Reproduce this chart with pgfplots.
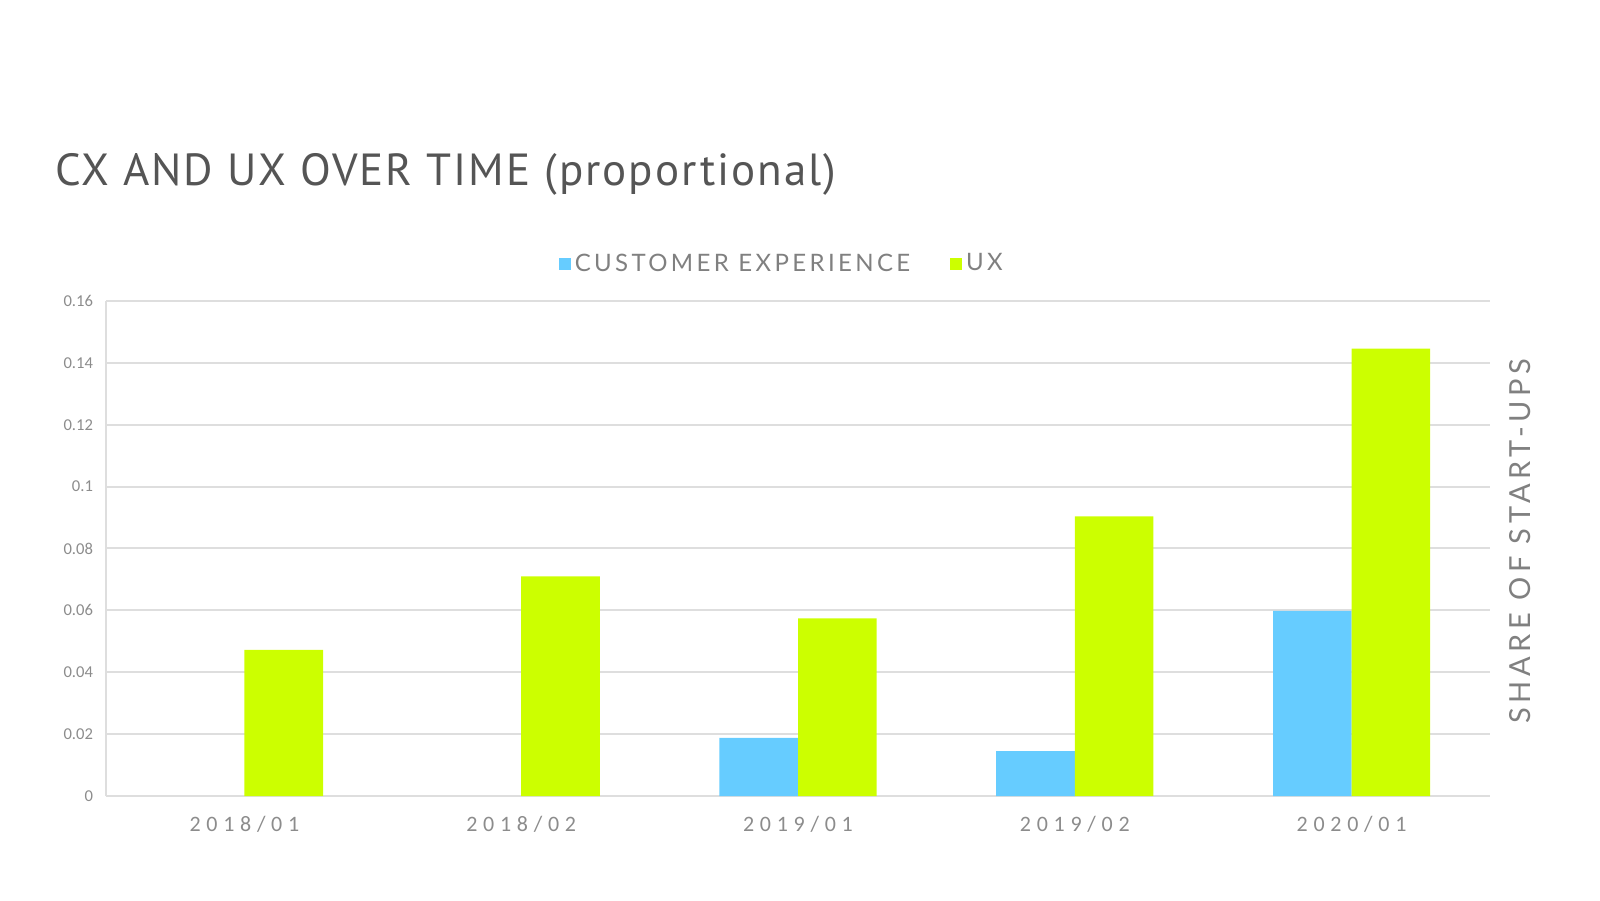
\documentclass[border=0pt]{standalone}
\usepackage{fontspec}
\usepackage{pgfplots}
\pgfplotsset{compat=1.18}
\setmainfont{Carlito}
\newfontfamily\titlefont[LetterSpace=4.5]{PT Sans}
\newfontfamily\legfont[LetterSpace=14]{Lato}
\newfontfamily\rfont[LetterSpace=16]{Lato}
\newfontfamily\xfont[LetterSpace=26]{Carlito}
\definecolor{cxblue}{HTML}{66CCFF}
\definecolor{uxgreen}{HTML}{CCFF00}
\definecolor{titlegray}{HTML}{555555}
\definecolor{leggray}{HTML}{808080}
\definecolor{tickgray}{HTML}{8C8C8C}
\definecolor{gridgray}{HTML}{DEDEDE}
\begin{document}
\begin{tikzpicture}
\path[use as bounding box] (0,0) rectangle (800pt,450pt);
\node[anchor=base west, text=titlegray, font=\titlefont\fontsize{22.5}{27}\selectfont, inner sep=0pt] at (27.5pt,357pt) {CX AND UX OVER TIME (proportional)};
\begin{axis}[
  at={(53pt,52pt)}, anchor=south west,
  scale only axis, width=692pt, height=247.5pt,
  ybar=0pt, bar width=39.3pt,
  xmin=-0.5, xmax=4.5, ymin=0, ymax=0.16,
  xtick={0,1,2,3,4},
  xticklabels={2018/01,2018/02,2019/01,2019/02,2020/01},
  ytick={0,0.02,0.04,0.06,0.08,0.1,0.12,0.14,0.16},
  yticklabels={0,0.02,0.04,0.06,0.08,0.1,0.12,0.14,0.16},
  major tick length=0pt,
  axis x line*=bottom, axis y line*=left,
  axis line style={draw=gridgray, line width=0.6pt, -},
  ymajorgrids, major grid style={draw=gridgray, line width=1pt},
  yticklabel style={font=\fontsize{8.3}{10}\selectfont, text=tickgray, xshift=-3pt},
  xticklabel style={font=\xfont\fontsize{11}{13}\selectfont, text=tickgray, yshift=-6.5pt},
  legend columns=2,
  legend style={draw=none, fill=none, at={(0.489,1.075)}, anchor=center,
    font=\legfont\fontsize{12}{14}\selectfont, text=leggray,
    /tikz/every even column/.append style={column sep=18pt}},
  legend image code/.code={\fill[#1] (0pt,-3pt) rectangle (6pt,3pt);},
  legend cell align=left,
]
\addplot[fill=cxblue, draw=none] coordinates {(2,0.0188) (3,0.0145) (4,0.0598)};
\addlegendentry{CUSTOMER EXPERIENCE}
\addplot[fill=uxgreen, draw=none] coordinates {(0,0.0472) (1,0.0710) (2,0.0574) (3,0.0904) (4,0.1446)};
\addlegendentry{UX}
\end{axis}
\node[rotate=90, anchor=center, text=leggray, font=\rfont\fontsize{14.5}{17}\selectfont] at (760pt,179.5pt) {SHARE OF START-UPS};
\end{tikzpicture}
\end{document}
